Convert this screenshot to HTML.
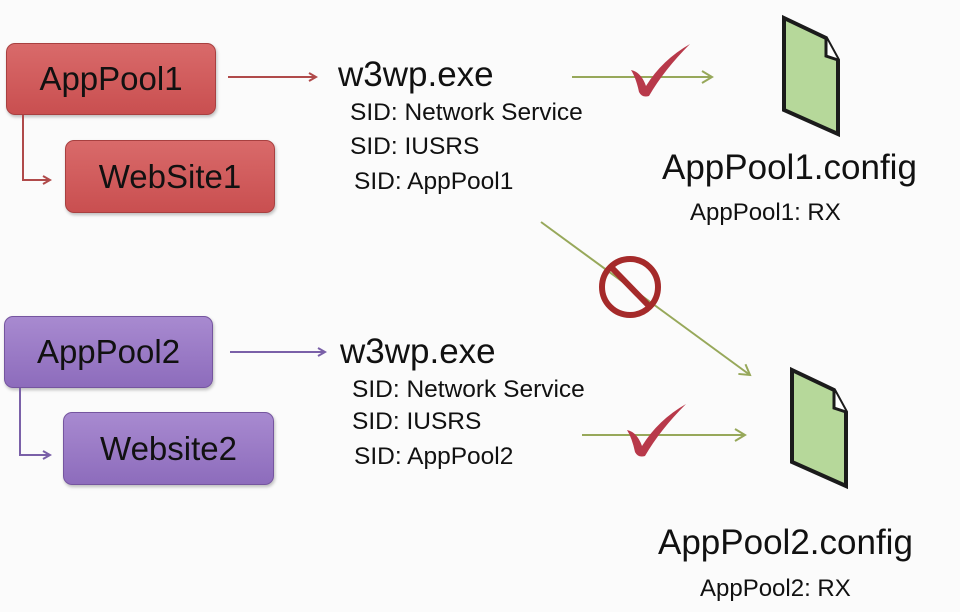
<!DOCTYPE html>
<html><head><style>
body{margin:0;width:960px;height:612px;background:#fbfbfb;overflow:hidden;position:relative;font-family:"Liberation Sans",sans-serif;color:#111}
.b{position:absolute;border-radius:9px;display:flex;align-items:center;justify-content:center;font-size:33px;box-shadow:1px 2px 3px rgba(0,0,0,.25)}
.r{background:linear-gradient(#d96a6a,#c94f50);border:1px solid #a84040}
.p{background:linear-gradient(#a88ad0,#8d6cbc);border:1px solid #75559f}
.t{position:absolute;white-space:nowrap}
</style></head><body>
<div class="b r" style="left:6px;top:43px;width:208px;height:70px">AppPool1</div>
<div class="b r" style="left:65px;top:140px;width:208px;height:71px">WebSite1</div>
<div class="b p" style="left:4px;top:316px;width:207px;height:70px">AppPool2</div>
<div class="b p" style="left:63px;top:412px;width:209px;height:71px">Website2</div>

<div class="t" style="left:338px;top:55px;font-size:35px">w3wp.exe</div>
<div class="t" style="left:350px;top:99px;font-size:24.5px">SID: Network Service</div>
<div class="t" style="left:350px;top:133px;font-size:24.5px">SID: IUSRS</div>
<div class="t" style="left:354px;top:168px;font-size:24.5px">SID: AppPool1</div>
<div class="t" style="left:662px;top:148px;font-size:35px">AppPool1.config</div>
<div class="t" style="left:690px;top:199px;font-size:24px">AppPool1: RX</div>

<div class="t" style="left:340px;top:332px;font-size:35px">w3wp.exe</div>
<div class="t" style="left:352px;top:376px;font-size:24.5px">SID: Network Service</div>
<div class="t" style="left:352px;top:408px;font-size:24.5px">SID: IUSRS</div>
<div class="t" style="left:354px;top:443px;font-size:24.5px">SID: AppPool2</div>
<div class="t" style="left:658px;top:523px;font-size:35px">AppPool2.config</div>
<div class="t" style="left:700px;top:575px;font-size:24px">AppPool2: RX</div>

<svg width="960" height="612" style="position:absolute;left:0;top:0">
<defs>
<marker id="ar" markerWidth="10" markerHeight="10" refX="8" refY="5" orient="auto" markerUnits="userSpaceOnUse"><path d="M1,1 L8,5 L1,9" fill="none" stroke="#b04a4a" stroke-width="2"/></marker>
<marker id="ap" markerWidth="10" markerHeight="10" refX="8" refY="5" orient="auto" markerUnits="userSpaceOnUse"><path d="M1,1 L8,5 L1,9" fill="none" stroke="#7a60a8" stroke-width="2"/></marker>
<marker id="ag" markerWidth="14" markerHeight="14" refX="11" refY="7" orient="auto" markerUnits="userSpaceOnUse"><path d="M1,1 L11,7 L1,13" fill="none" stroke="#97a85a" stroke-width="2"/></marker>
</defs>
<g fill="none" stroke-width="2">
<path d="M228,77 H316" stroke="#b04a4a" marker-end="url(#ar)"/>
<path d="M23,115 V180 H50" stroke="#b04a4a" marker-end="url(#ar)"/>
<path d="M230,352 H325" stroke="#7a60a8" marker-end="url(#ap)"/>
<path d="M20,388 V455 H50" stroke="#7a60a8" marker-end="url(#ap)"/>
<path d="M572,77 H712" stroke="#97a85a" marker-end="url(#ag)"/>
<path d="M582,435 H745" stroke="#97a85a" marker-end="url(#ag)"/>
<path d="M541,222 L750,375" stroke="#97a85a" marker-end="url(#ag)"/>
</g>
<circle cx="630" cy="287" r="28" fill="none" stroke="#a52a2a" stroke-width="6"/>
<line x1="611" y1="267" x2="650" y2="307" stroke="#a52a2a" stroke-width="6"/>
<path d="M631,70 Q641,72 646,86 Q662,60 690,44 Q664,70 649,96 Q642,98 639,92 Q636,78 631,70Z" fill="#b8394a"/>
<path d="M627,430 Q637,432 642,446 Q658,420 686,404 Q660,430 645,456 Q638,458 635,452 Q632,438 627,430Z" fill="#b8394a"/>
<g>
<path d="M784,18 L826,38 L838,60 L838,134 L784,110 Z" fill="#b6d89a" stroke="#1b1b1b" stroke-width="4"/>
<path d="M826,38 L826,56 L838,60" fill="#fff" stroke="#1b1b1b" stroke-width="3"/>
<path d="M792,370 L834,390 L846,412 L846,486 L792,462 Z" fill="#b6d89a" stroke="#1b1b1b" stroke-width="4"/>
<path d="M834,390 L834,408 L846,412" fill="#fff" stroke="#1b1b1b" stroke-width="3"/>
</g>
</svg>
</body></html>
